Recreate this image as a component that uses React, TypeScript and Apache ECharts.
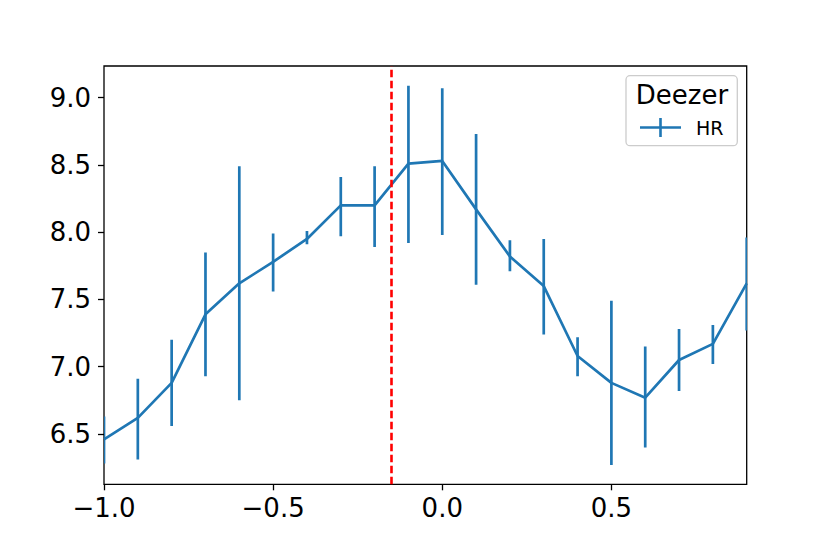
import React, { useEffect, useRef } from "react";
import * as echarts from "echarts";

const xValues = [-1.0, -0.9, -0.8, -0.7, -0.6, -0.5, -0.4, -0.3, -0.2, -0.1, 0.0, 0.1, 0.2, 0.3, 0.4, 0.5, 0.6, 0.7, 0.8, 0.9];
const hrMean = [6.46, 6.62, 6.88, 7.39, 7.62, 7.78, 7.95, 8.2, 8.2, 8.51, 8.53, 8.17, 7.82, 7.6, 7.08, 6.88, 6.77, 7.05, 7.17, 7.62];
const hrLow = [6.28, 6.31, 6.56, 6.93, 6.75, 7.56, 7.91, 7.97, 7.89, 7.92, 7.98, 7.61, 7.71, 7.24, 6.93, 6.27, 6.4, 6.82, 7.02, 7.27];
const hrHigh = [6.63, 6.91, 7.2, 7.85, 8.49, 7.99, 8.01, 8.41, 8.49, 9.09, 9.07, 8.73, 7.94, 7.95, 7.22, 7.49, 7.15, 7.28, 7.31, 7.96];
const xTicks = [-1.0, -0.5, 0.0, 0.5];
const yTicks = [6.5, 7.0, 7.5, 8.0, 8.5, 9.0];
const vLineX = -0.15;
const legendTitle = "Deezer";
const seriesName = "HR";

const BLUE = "#1f77b4";
const FONT = "DejaVu Sans";

const fmt = (v: number) => (v < -1e-9 ? "\u2212" + Math.abs(v).toFixed(1) : Math.abs(v).toFixed(1));

export default function App() {
  const ref = useRef<HTMLDivElement>(null);
  useEffect(() => {
    document.body.style.margin = "0";
    const chart = echarts.init(ref.current!, null, { renderer: "svg" });
    const lineData = xValues.map((x, i) => [x, hrMean[i]]);
    const errData = xValues.map((x, i) => [x, hrLow[i], hrHigh[i]]);
    chart.setOption({
      animation: false,
      backgroundColor: "#ffffff",
      grid: {
        left: 104,
        top: 66,
        right: 83.3,
        bottom: 69.7,
        show: true,
        borderColor: "#000000",
        borderWidth: 1.3,
        backgroundColor: "transparent",
      },
      xAxis: {
        type: "value",
        min: -1.0,
        max: 0.9,
        axisLine: { show: false, onZero: false },
        splitLine: { show: false },
        axisTick: {
          show: true,
          inside: false,
          length: 6,
          lineStyle: { color: "#000", width: 1.3 },
          customValues: xTicks,
        },
        axisLabel: {
          customValues: xTicks,
          formatter: fmt,
          fontFamily: FONT,
          fontSize: 26,
          color: "#000",
          margin: 11,
        },
      },
      yAxis: {
        type: "value",
        min: 6.126,
        max: 9.236,
        axisLine: { show: false, onZero: false },
        splitLine: { show: false },
        axisTick: {
          show: true,
          inside: false,
          length: 6,
          lineStyle: { color: "#000", width: 1.3 },
          customValues: yTicks,
        },
        axisLabel: {
          customValues: yTicks,
          formatter: fmt,
          fontFamily: FONT,
          fontSize: 26,
          color: "#000",
          margin: 13,
        },
      },
      legend: {
        show: true,
        left: 640,
        top: 118,
        padding: 0,
        itemWidth: 41,
        itemHeight: 19,
        selectedMode: false,
        z: 10,
        data: [
          {
            name: seriesName,
            icon: "path://M0,8.2 L41,8.2 L41,10.8 L0,10.8 Z M19.2,0 L21.8,0 L21.8,19 L19.2,19 Z",
          },
        ],
        itemStyle: { color: BLUE },
        textStyle: { fontFamily: FONT, fontSize: 19, color: "#000", padding: [0, 0, 0, 10] },
      },
      graphic: [
        {
          type: "rect",
          z: 8,
          shape: { x: 626, y: 75.7, width: 111.3, height: 70, r: 4 },
          style: { fill: "rgba(255,255,255,0.8)", stroke: "#cccccc", lineWidth: 1.3 },
        },
        {
          type: "text",
          z: 9,
          x: 682,
          y: 94.5,
          style: {
            text: legendTitle,
            fontFamily: FONT,
            fontSize: 26,
            fill: "#000",
            textAlign: "center",
            textVerticalAlign: "middle",
          },
        },
      ],
      series: [
        {
          name: seriesName,
          type: "line",
          data: lineData,
          color: BLUE,
          showSymbol: false,
          symbol: "none",
          lineStyle: { color: BLUE, width: 2.7 },
          z: 3,
          markLine: {
            silent: true,
            symbol: ["none", "none"],
            label: { show: false },
            lineStyle: { color: "#ff0000", type: [7.5, 3.5], width: 2.6 },
            data: [{ xAxis: vLineX }],
          },
        },
        {
          name: "err",
          type: "custom",
          clip: true,
          data: errData,
          encode: { x: 0, y: [1, 2] },
          z: 3,
          renderItem: (params: any, api: any) => {
            const x = api.value(0);
            const p1 = api.coord([x, api.value(1)]);
            const p2 = api.coord([x, api.value(2)]);
            return {
              type: "line",
              shape: { x1: p1[0], y1: p1[1], x2: p2[0], y2: p2[1] },
              style: { stroke: BLUE, lineWidth: 2.7 },
            };
          },
        },
      ],
    });
    return () => chart.dispose();
  }, []);
  return <div ref={ref} style={{ width: 830, height: 554 }} />;
}
